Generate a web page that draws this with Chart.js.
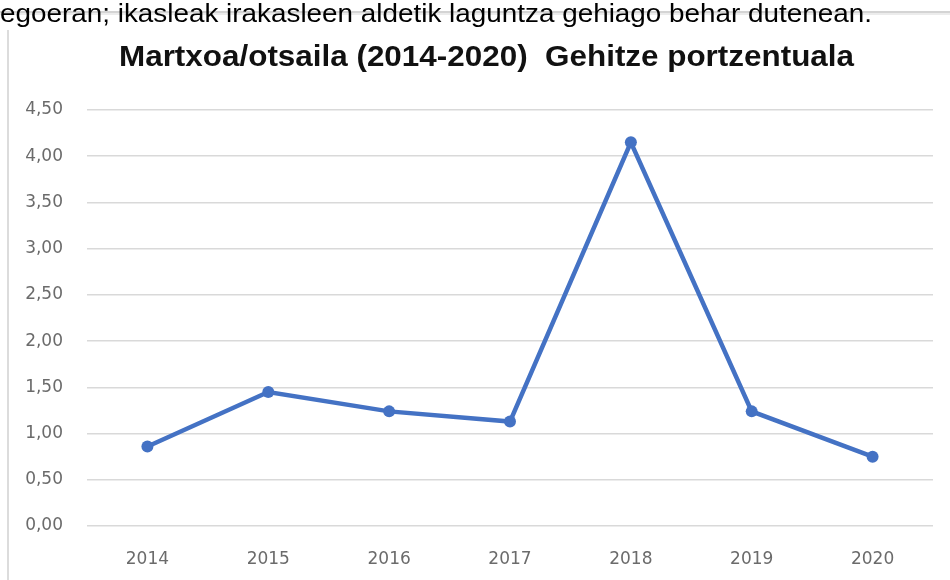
<!DOCTYPE html>
<html>
<head>
<meta charset="utf-8">
<script src="https://cdn.jsdelivr.net/npm/chart.js@4.4.1/dist/chart.umd.min.js"></script>
<style>
  html, body { margin: 0; padding: 0; background: #fff; }
  #wrap { width: 950px; height: 580px; position: relative; }
</style>
</head>
<body>
<div id="wrap"><canvas id="pctChart"></canvas></div>
<script>
// --- data ---
const years = ['2014', '2015', '2016', '2017', '2018', '2019', '2020'];
const increasePct = [0.86, 1.45, 1.24, 1.13, 4.15, 1.24, 0.75];
const captionText = 'egoeran; ikasleak irakasleen aldetik laguntza gehiago behar dutenean.';
const titleText = 'Martxoa/otsaila (2014-2020)  Gehitze portzentuala';

// draws the page fragment round the picture: caption line, frame edges, title
const framePlugin = {
    id: 'frame',
    beforeDraw(chart) {
        const c = chart.ctx;
        c.save();
        // top edge with a soft shadow
        c.fillStyle = '#d4d4d4';
        c.fillRect(0, 11, 950, 2);
        c.fillStyle = '#ececec';
        c.fillRect(0, 13, 950, 2);
        // left edge of embedded picture
        c.fillStyle = '#dcdcdc';
        c.fillRect(7, 30, 2, 550);

        // fit text between two x positions
        function fitText(txt, font, x0, x1, y, color) {
            c.font = font;
            c.fillStyle = color;
            c.textBaseline = 'alphabetic';
            c.textAlign = 'left';
            const w = c.measureText(txt).width;
            c.save();
            c.translate(x0, y);
            c.scale((x1 - x0) / w, 1);
            c.fillText(txt, 0, 0);
            c.restore();
        }
        fitText(captionText, '26px "Liberation Sans Narrow", "Liberation Sans", Arial, sans-serif', 0, 872, 22, '#000');
        fitText(titleText, 'bold 29px "Liberation Sans Narrow", "Liberation Sans", Arial, sans-serif', 119, 854, 66, '#111');
        c.restore();
    }
};

new Chart(document.getElementById('pctChart').getContext('2d'), {
    type: 'line',
    data: {
        labels: years,
        datasets: [{
            data: increasePct,
            borderColor: '#4472C4',
            backgroundColor: '#4472C4',
            borderWidth: 4.5,
            pointRadius: 6,
            pointBorderWidth: 0,
            pointBackgroundColor: '#4472C4',
            tension: 0,
            fill: false
        }]
    },
    options: {
        responsive: true, maintainAspectRatio: false, animation: false,
        layout: { padding: { top: 110, right: 17, bottom: 0, left: 0 } },
        plugins: { legend: { display: false }, title: { display: false }, tooltip: { enabled: false } },
        scales: {
            y: {
                min: 0, max: 4.5,
                afterFit: function(s) { s.width = 87; },
                border: { display: false },
                grid: { color: '#d9d9d9', lineWidth: 1.5, drawTicks: false },
                ticks: {
                    stepSize: 0.5, padding: 24, color: '#6b6b6b',
                    font: { family: '"DejaVu Sans"', size: 17 },
                    callback: function(v) { return v.toFixed(2).replace('.', ','); }
                }
            },
            x: {
                offset: true,
                afterFit: function(s) { s.height = 54; },
                border: { display: false },
                grid: { display: false, drawTicks: false },
                ticks: { padding: 23, color: '#6b6b6b', font: { family: '"DejaVu Sans"', size: 17 } }
            }
        }
    },
    plugins: [framePlugin]
});
</script>
</body>
</html>
